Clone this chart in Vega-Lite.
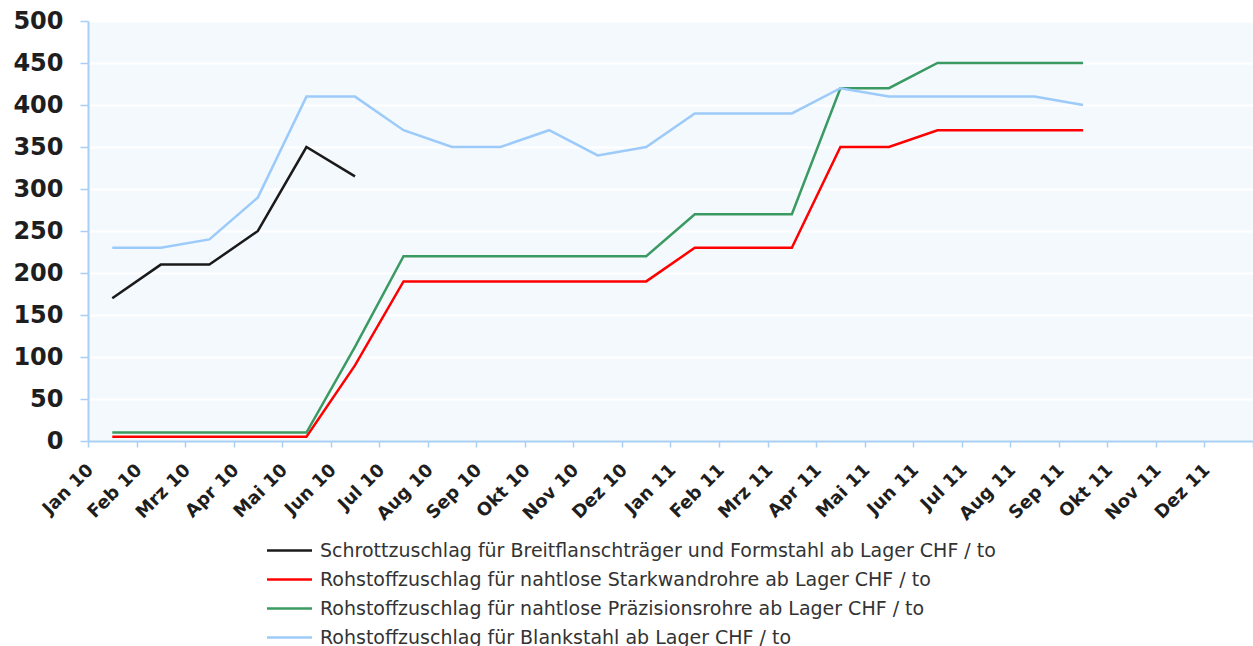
{
  "$schema": "https://vega.github.io/schema/vega-lite/v6.json",
  "width": 1165,
  "height": 420,
  "autosize": {"type": "none"},
  "padding": {"left": 88, "top": 21, "right": 0, "bottom": 205},
  "background": "white",
  "config": {"view": {"fill": "#F4F9FE", "stroke": null}},
  "datasets": {
    "d": [
      {"month": "Jan 10", "series": "S1", "value": 170},
      {"month": "Feb 10", "series": "S1", "value": 210},
      {"month": "Mrz 10", "series": "S1", "value": 210},
      {"month": "Apr 10", "series": "S1", "value": 250},
      {"month": "Mai 10", "series": "S1", "value": 350},
      {"month": "Jun 10", "series": "S1", "value": 315},

      {"month": "Jan 10", "series": "S2", "value": 5},
      {"month": "Feb 10", "series": "S2", "value": 5},
      {"month": "Mrz 10", "series": "S2", "value": 5},
      {"month": "Apr 10", "series": "S2", "value": 5},
      {"month": "Mai 10", "series": "S2", "value": 5},
      {"month": "Jun 10", "series": "S2", "value": 90},
      {"month": "Jul 10", "series": "S2", "value": 190},
      {"month": "Aug 10", "series": "S2", "value": 190},
      {"month": "Sep 10", "series": "S2", "value": 190},
      {"month": "Okt 10", "series": "S2", "value": 190},
      {"month": "Nov 10", "series": "S2", "value": 190},
      {"month": "Dez 10", "series": "S2", "value": 190},
      {"month": "Jan 11", "series": "S2", "value": 230},
      {"month": "Feb 11", "series": "S2", "value": 230},
      {"month": "Mrz 11", "series": "S2", "value": 230},
      {"month": "Apr 11", "series": "S2", "value": 350},
      {"month": "Mai 11", "series": "S2", "value": 350},
      {"month": "Jun 11", "series": "S2", "value": 370},
      {"month": "Jul 11", "series": "S2", "value": 370},
      {"month": "Aug 11", "series": "S2", "value": 370},
      {"month": "Sep 11", "series": "S2", "value": 370},

      {"month": "Jan 10", "series": "S3", "value": 10},
      {"month": "Feb 10", "series": "S3", "value": 10},
      {"month": "Mrz 10", "series": "S3", "value": 10},
      {"month": "Apr 10", "series": "S3", "value": 10},
      {"month": "Mai 10", "series": "S3", "value": 10},
      {"month": "Jun 10", "series": "S3", "value": 112},
      {"month": "Jul 10", "series": "S3", "value": 220},
      {"month": "Aug 10", "series": "S3", "value": 220},
      {"month": "Sep 10", "series": "S3", "value": 220},
      {"month": "Okt 10", "series": "S3", "value": 220},
      {"month": "Nov 10", "series": "S3", "value": 220},
      {"month": "Dez 10", "series": "S3", "value": 220},
      {"month": "Jan 11", "series": "S3", "value": 270},
      {"month": "Feb 11", "series": "S3", "value": 270},
      {"month": "Mrz 11", "series": "S3", "value": 270},
      {"month": "Apr 11", "series": "S3", "value": 420},
      {"month": "Mai 11", "series": "S3", "value": 420},
      {"month": "Jun 11", "series": "S3", "value": 450},
      {"month": "Jul 11", "series": "S3", "value": 450},
      {"month": "Aug 11", "series": "S3", "value": 450},
      {"month": "Sep 11", "series": "S3", "value": 450},

      {"month": "Jan 10", "series": "S4", "value": 230},
      {"month": "Feb 10", "series": "S4", "value": 230},
      {"month": "Mrz 10", "series": "S4", "value": 240},
      {"month": "Apr 10", "series": "S4", "value": 290},
      {"month": "Mai 10", "series": "S4", "value": 410},
      {"month": "Jun 10", "series": "S4", "value": 410},
      {"month": "Jul 10", "series": "S4", "value": 370},
      {"month": "Aug 10", "series": "S4", "value": 350},
      {"month": "Sep 10", "series": "S4", "value": 350},
      {"month": "Okt 10", "series": "S4", "value": 370},
      {"month": "Nov 10", "series": "S4", "value": 340},
      {"month": "Dez 10", "series": "S4", "value": 350},
      {"month": "Jan 11", "series": "S4", "value": 390},
      {"month": "Feb 11", "series": "S4", "value": 390},
      {"month": "Mrz 11", "series": "S4", "value": 390},
      {"month": "Apr 11", "series": "S4", "value": 420},
      {"month": "Mai 11", "series": "S4", "value": 410},
      {"month": "Jun 11", "series": "S4", "value": 410},
      {"month": "Jul 11", "series": "S4", "value": 410},
      {"month": "Aug 11", "series": "S4", "value": 410},
      {"month": "Sep 11", "series": "S4", "value": 400}
    ],
    "names": [
      {"series": "S1", "name": "Schrottzuschlag für Breitflanschträger und Formstahl ab Lager CHF / to"},
      {"series": "S2", "name": "Rohstoffzuschlag für nahtlose Starkwandrohre ab Lager CHF / to"},
      {"series": "S3", "name": "Rohstoffzuschlag für nahtlose Präzisionsrohre ab Lager CHF / to"},
      {"series": "S4", "name": "Rohstoffzuschlag für Blankstahl ab Lager CHF / to"}
    ]
  },
  "data": {"name": "d"},
  "transform": [
    {"lookup": "series", "from": {"data": {"name": "names"}, "key": "series", "fields": ["name"]}}
  ],
  "mark": {"type": "line", "strokeWidth": 2.5},
  "encoding": {
    "x": {
      "field": "month",
      "type": "ordinal",
      "bandPosition": 0.5,
      "scale": {
        "type": "band",
        "paddingInner": 0,
        "paddingOuter": 0,
        "domain": ["Jan 10","Feb 10","Mrz 10","Apr 10","Mai 10","Jun 10","Jul 10","Aug 10","Sep 10","Okt 10","Nov 10","Dez 10","Jan 11","Feb 11","Mrz 11","Apr 11","Mai 11","Jun 11","Jul 11","Aug 11","Sep 11","Okt 11","Nov 11","Dez 11"]
      },
      "axis": {
        "title": null,
        "labelAngle": -45,
        "labelAlign": "right",
        "labelBaseline": "middle",
        "labelFont": "DejaVu Sans",
        "labelFontWeight": "bold",
        "labelFontSize": 18,
        "labelColor": "#1e1e1e",
        "labelOffset": -22,
        "labelPadding": 20,
        "tickBand": "extent",
        "tickColor": "#A9CFF4",
        "tickWidth": 1.5,
        "tickSize": 6,
        "domainColor": "#A9CFF4",
        "domainWidth": 2,
        "grid": false
      }
    },
    "y": {
      "field": "value",
      "type": "quantitative",
      "scale": {"domain": [0, 500], "nice": false},
      "axis": {
        "title": null,
        "values": [0, 50, 100, 150, 200, 250, 300, 350, 400, 450, 500],
        "grid": true,
        "gridColor": "#FFFFFF",
        "gridWidth": 2,
        "labelFont": "DejaVu Sans",
        "labelFontWeight": "bold",
        "labelFontSize": 24,
        "labelColor": "#1e1e1e",
        "labelPadding": 17,
        "tickSize": 8,
        "tickColor": "#A9CFF4",
        "tickWidth": 1.5,
        "domainColor": "#A9CFF4",
        "domainWidth": 2
      }
    },
    "color": {
      "field": "name",
      "type": "nominal",
      "scale": {
        "domain": [
          "Schrottzuschlag für Breitflanschträger und Formstahl ab Lager CHF / to",
          "Rohstoffzuschlag für nahtlose Starkwandrohre ab Lager CHF / to",
          "Rohstoffzuschlag für nahtlose Präzisionsrohre ab Lager CHF / to",
          "Rohstoffzuschlag für Blankstahl ab Lager CHF / to"
        ],
        "range": ["#1A1A1A", "#FF0000", "#3A9A62", "#9CCBFA"]
      },
      "legend": {
        "title": null,
        "orient": "none",
        "legendX": 192,
        "legendY": 520,
        "direction": "vertical",
        "padding": 0,
        "symbolType": "M-3,0H3",
        "symbolSize": 225,
        "symbolStrokeWidth": 2.5,
        "labelFont": "DejaVu Sans",
        "labelFontSize": 19,
        "labelColor": "#333333",
        "labelOffset": 21,
        "labelLimit": 1000,
        "rowPadding": 9
      }
    }
  }
}
